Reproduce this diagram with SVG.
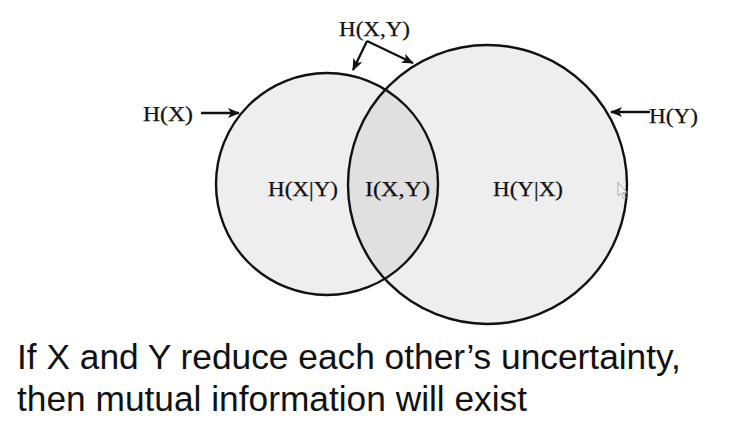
<svg xmlns="http://www.w3.org/2000/svg" width="731" height="440" viewBox="0 0 731 440">
<style>
.lbl{font-family:"Liberation Serif","Times New Roman",serif;font-size:21px;fill:#111;stroke:#111;stroke-width:0.25}
.cap{font-family:"Liberation Sans",Arial,sans-serif;font-size:35.3px;fill:#111}
.circ{fill:none;stroke:#111;stroke-width:2.4}
.con{fill:none;stroke:#111;stroke-width:2.3}
</style>
<defs>
<marker id="ah" viewBox="0 0 12 10" refX="11" refY="5" markerWidth="12" markerHeight="10" markerUnits="userSpaceOnUse" orient="auto">
<path d="M0,0 L12,5 L0,10 L3,5 Z" fill="#111"/>
</marker>
<clipPath id="clipL"><circle cx="327" cy="184" r="111"/></clipPath>
</defs>
<rect width="731" height="440" fill="#fff"/>
<g id="circleX">
<circle cx="327" cy="184" r="111" fill="#eeeeee"/>
</g>
<g id="circleY">
<circle cx="487.5" cy="184.5" r="139.5" fill="#eeeeee"/>
</g>
<g id="overlap">
<circle cx="487.5" cy="184.5" r="139.5" fill="#e0e0e0" clip-path="url(#clipL)"/>
</g>
<circle class="circ" cx="327" cy="184" r="111"/>
<circle class="circ" cx="487.5" cy="184.5" r="139.5"/>
<g id="connectors">
<line class="con" x1="201" y1="113" x2="239" y2="113" marker-end="url(#ah)"/>
<line class="con" x1="650" y1="112" x2="611" y2="112" marker-end="url(#ah)"/>
<line class="con" x1="367" y1="41" x2="413" y2="63" marker-end="url(#ah)"/>
<line class="con" x1="367" y1="41" x2="353" y2="70" marker-end="url(#ah)"/>
</g>
<g id="label-HX"><text class="lbl" x="143" y="121" textLength="50" lengthAdjust="spacingAndGlyphs">H(X)</text></g>
<g id="label-HY"><text class="lbl" x="649" y="123" textLength="49" lengthAdjust="spacingAndGlyphs">H(Y)</text></g>
<g id="label-HXY"><text class="lbl" x="339" y="36" textLength="71" lengthAdjust="spacingAndGlyphs">H(X,Y)</text></g>
<g id="label-HXgY"><text class="lbl" x="268" y="196" textLength="70" lengthAdjust="spacingAndGlyphs">H(X|Y)</text></g>
<g id="label-IXY"><text class="lbl" x="365" y="196" textLength="65" lengthAdjust="spacingAndGlyphs">I(X,Y)</text></g>
<g id="label-HYgX"><text class="lbl" x="493" y="196" textLength="70" lengthAdjust="spacingAndGlyphs">H(Y|X)</text></g>
<path d="M618,182.5 L618,196 L621,193 L623.5,198.5 L625.5,197.5 L623,192.5 L627,192.5 Z" fill="#f4f4f4" stroke="#999" stroke-width="0.8"/>
<g id="caption">
<text class="cap" x="17" y="369">If X and Y reduce each other’s uncertainty,</text>
<text class="cap" x="17" y="411">then mutual information will exist</text>
</g>
</svg>
